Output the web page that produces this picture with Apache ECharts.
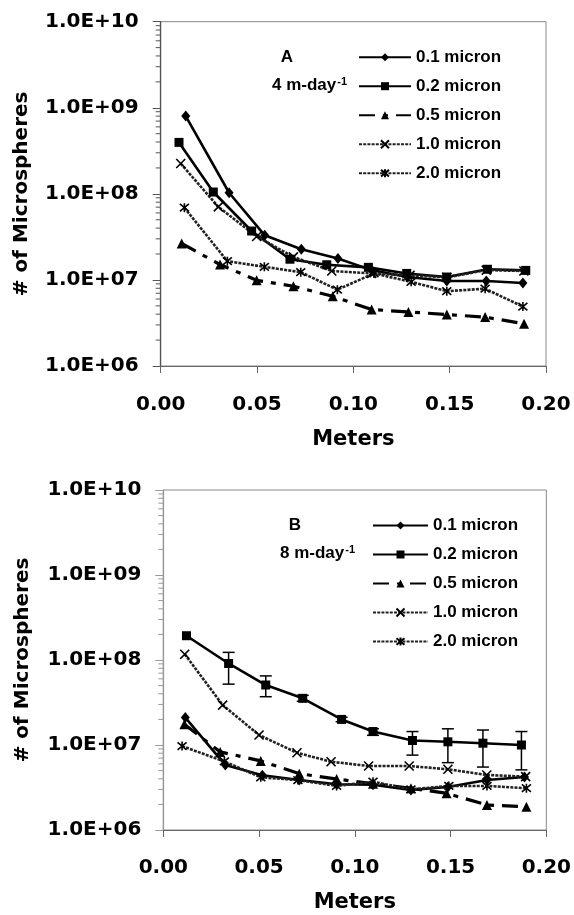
<!DOCTYPE html>
<html>
<head>
<meta charset="utf-8">
<script src="https://cdn.jsdelivr.net/npm/echarts@6/dist/echarts.min.js"></script>
<style>
html,body{margin:0;padding:0;background:#fff;}
#chart{width:574px;height:915px;}
</style>
</head>
<body>
<div id="chart"></div>
<script>
// ---------- data ----------
const seriesNames = ['0.1 micron', '0.2 micron', '0.5 micron', '1.0 micron', '2.0 micron'];
const xTickLabels = ['0.00', '0.05', '0.10', '0.15', '0.20'];
const yTickLabels = ['1.0E+06', '1.0E+07', '1.0E+08', '1.0E+09', '1.0E+10'];

// Panel A (4 m-day-1)
const xA01 = [0.013, 0.0355, 0.054, 0.073, 0.092, 0.1095, 0.128, 0.1485, 0.169, 0.188];
const yA01 = [8.0e8, 1.03e8, 3.3e7, 2.27e7, 1.77e7, 1.3e7, 1.08e7, 9.7e6, 9.7e6, 9.2e6];
const xA02 = [0.0095, 0.0273, 0.0472, 0.0671, 0.0862, 0.1078, 0.1277, 0.1485, 0.1696, 0.1895];
const yA02 = [3.96e8, 1.05e8, 3.7e7, 1.74e7, 1.5e7, 1.4e7, 1.19e7, 1.08e7, 1.33e7, 1.29e7];
const xA05 = [0.0109, 0.0308, 0.0498, 0.0689, 0.0893, 0.1095, 0.1286, 0.1485, 0.1684, 0.1886];
const yA05 = [2.65e7, 1.51e7, 9.9e6, 8.45e6, 6.45e6, 4.53e6, 4.25e6, 3.96e6, 3.7e6, 3.1e6];
const xA10 = [0.0104, 0.0299, 0.0498, 0.0689, 0.0888, 0.1095, 0.1294, 0.1485, 0.169, 0.1885];
const yA10 = [2.25e8, 7.06e7, 3.2e7, 1.85e7, 1.27e7, 1.19e7, 1.13e7, 1.07e7, 1.3e7, 1.27e7];
const xA20 = [0.0123, 0.0346, 0.0538, 0.0727, 0.0917, 0.1107, 0.130, 0.1485, 0.1684, 0.188];
const yA20 = [6.9e7, 1.65e7, 1.42e7, 1.23e7, 7.7e6, 1.19e7, 9.5e6, 7.4e6, 7.9e6, 4.9e6];

// Panel B (8 m-day-1)
const xB01 = [0.0115, 0.0324, 0.0517, 0.071, 0.0905, 0.1095, 0.1293, 0.1486, 0.169, 0.1886];
const yB01 = [2.1e7, 5.8e6, 4.4e6, 3.87e6, 3.45e6, 3.4e6, 2.95e6, 3.2e6, 3.87e6, 4.2e6];
const xB02 = [0.0121, 0.0341, 0.0535, 0.0728, 0.0931, 0.1095, 0.1301, 0.1486, 0.1669, 0.187];
const yB02 = [1.93e8, 9.1e7, 5.08e7, 3.54e7, 2.0e7, 1.44e7, 1.13e7, 1.09e7, 1.05e7, 1.0e7];
const errLowB02 = [null, 5.2e7, 3.7e7, 3.27e7, 1.88e7, 1.3e7, 7.6e6, 6.2e6, 5.5e6, 5.1e6];
const errHighB02 = [null, 1.23e8, 6.5e7, 3.84e7, 2.12e7, 1.55e7, 1.44e7, 1.55e7, 1.5e7, 1.44e7];
const xB05 = [0.011, 0.0297, 0.0509, 0.071, 0.0905, 0.1095, 0.1293, 0.1479, 0.169, 0.1896];
const yB05 = [1.75e7, 8.3e6, 6.5e6, 4.6e6, 3.98e6, 3.5e6, 3.1e6, 2.7e6, 1.97e6, 1.88e6];
const xB10 = [0.0112, 0.031, 0.05, 0.0698, 0.0876, 0.1072, 0.1284, 0.1486, 0.1689, 0.1892];
const yB10 = [1.17e8, 2.95e7, 1.31e7, 8.1e6, 6.36e6, 5.66e6, 5.66e6, 5.18e6, 4.44e6, 4.24e6];
const xB20 = [0.0098, 0.0319, 0.0509, 0.0703, 0.0905, 0.1095, 0.1293, 0.1491, 0.169, 0.1896];
const yB20 = [9.7e6, 6.4e6, 4.17e6, 3.87e6, 3.3e6, 3.7e6, 3.0e6, 3.3e6, 3.3e6, 3.1e6];

// ---------- styling helpers ----------
const FONT = '"Liberation Sans", Arial, sans-serif';
const AXFONT = '"DejaVu Sans", sans-serif';
const X_SYMBOL = 'path://M0,0L10,10M10,0L0,10';
const AST_SYMBOL = 'path://M0,0L10,10M10,0L0,10M5,-1L5,11';

const styles = [
  {symbol: 'diamond', symbolSize: [9, 11], lineStyle: {color: '#000', width: 2.6, type: 'solid'}},
  {symbol: 'rect', symbolSize: 9, lineStyle: {color: '#000', width: 2.6, type: 'solid'}},
  {symbol: 'triangle', symbolSize: 10, lineStyle: {color: '#000', width: 3.2, type: [16, 8, 5, 8]}},
  {symbol: X_SYMBOL, symbolSize: 9, lineStyle: {color: '#222', width: 2.6, type: [3, 1.2]}},
  {symbol: AST_SYMBOL, symbolSize: 9, lineStyle: {color: '#222', width: 2.6, type: [3, 1.2]}}
];

function zip(xs, ys) { return xs.map((x, i) => [x, ys[i]]); }

function makeSeries(idx, xs, ys, gridIdx) {
  const s = styles[idx];
  return {
    type: 'line',
    name: seriesNames[idx],
    xAxisIndex: gridIdx,
    yAxisIndex: gridIdx,
    data: zip(xs, ys),
    symbol: s.symbol,
    symbolSize: s.symbolSize,
    showSymbol: true,
    lineStyle: s.lineStyle,
    itemStyle: {color: '#000', borderColor: '#000', borderWidth: idx >= 3 ? 1.6 : 0},
    emphasis: {disabled: true},
    z: 3
  };
}

// minor tick positions on the log axis (2..9 x 10^n)
const minorTicks = [];
for (let e = 6; e < 10; e++) for (let m = 2; m <= 9; m++) minorTicks.push(m * Math.pow(10, e));

function minorTickSeries(gridIdx, color) {
  return {
    type: 'custom', name: 'minorTicks' + gridIdx, xAxisIndex: gridIdx, yAxisIndex: gridIdx,
    data: minorTicks.map(v => [0, v]), encode: {x: 0, y: 1}, clip: false, silent: true, z: 5,
    renderItem: function (params, api) {
      const p = api.coord([api.value(0), api.value(1)]);
      return {type: 'line', shape: {x1: p[0] - 5, y1: p[1], x2: p[0], y2: p[1]}, style: {stroke: color, lineWidth: 1}};
    }
  };
}

function xAxisDef(gridIdx, margin, nameGap) {
  return {
    type: 'value', gridIndex: gridIdx, min: 0, max: 0.2, interval: 0.05,
    name: 'Meters', nameLocation: 'middle', nameGap: nameGap,
    nameTextStyle: {fontFamily: AXFONT, fontWeight: 'bold', fontSize: 21, color: '#000'},
    axisLine: {lineStyle: {color: '#666', width: 1}},
    axisTick: {inside: false, length: 7, lineStyle: {color: '#666'}},
    axisLabel: {
      margin: margin, fontFamily: AXFONT, fontWeight: 'bold', fontSize: 20, color: '#000',
      formatter: v => xTickLabels[Math.round(v / 0.05)]
    },
    splitLine: {show: false}
  };
}
function yAxisDef(gridIdx, lineColor, nameGap) {
  return {
    type: 'log', logBase: 10, gridIndex: gridIdx, min: 1e6, max: 1e10,
    name: '# of Microspheres', nameLocation: 'middle', nameRotate: 90, nameGap: nameGap,
    nameTextStyle: {fontFamily: AXFONT, fontWeight: 'bold', fontSize: 20, color: '#000'},
    axisLine: {show: true, lineStyle: {color: lineColor, width: 1.3}},
    axisTick: {show: true, inside: false, length: 8, lineStyle: {color: lineColor}},
    axisLabel: {
      margin: 22, fontFamily: AXFONT, fontWeight: 'bold', fontSize: 20, color: '#000',
      formatter: v => yTickLabels[Math.round(Math.log10(v)) - 6]
    },
    splitLine: {show: false}
  };
}

const errData = xB02.map((x, i) => [x, errLowB02[i], errHighB02[i]]).filter(d => d[1] != null);

const legendBase = {
  orient: 'vertical', padding: 0, itemHeight: 10, itemGap: 12,
  textStyle: {fontFamily: FONT, fontWeight: 'bold', fontSize: 17, lineHeight: 16, color: '#000'},
  data: seriesNames, selectedMode: false
};

const supRich = {
  m: {fontFamily: FONT, fontWeight: 'bold', fontSize: 17, fill: '#000'},
  s: {fontFamily: FONT, fontWeight: 'bold', fontSize: 11, fill: '#000', verticalAlign: 'top', padding: [0, 0, 0, 1]}
};

const option = {
  animation: false,
  backgroundColor: '#fff',
  grid: [
    {left: 160.7, top: 21.7, width: 385.3, height: 344.3, show: true, borderColor: '#888', borderWidth: 1, backgroundColor: 'transparent'},
    {left: 163.3, top: 490, width: 386.7, height: 340, show: true, borderColor: '#888', borderWidth: 1, backgroundColor: 'transparent'}
  ],
  xAxis: [xAxisDef(0, 29, 63.5), xAxisDef(1, 28, 62.5)],
  yAxis: [yAxisDef(0, '#555', 128.5), yAxisDef(1, '#999', 131)],
  legend: [
    Object.assign({}, legendBase, {left: 358, top: 48.7, itemWidth: 52}),
    Object.assign({}, legendBase, {left: 372, top: 517, itemWidth: 55})
  ],
  graphic: [
    {type: 'text', x: 287, y: 57, style: {text: 'A', fontFamily: FONT, fontWeight: 'bold', fontSize: 17, fill: '#000', align: 'center', verticalAlign: 'middle'}},
    {type: 'text', x: 272, y: 85, style: {text: '{m|4 m-day}{s|-1}', align: 'left', verticalAlign: 'middle', rich: supRich}},
    {type: 'text', x: 295, y: 525, style: {text: 'B', fontFamily: FONT, fontWeight: 'bold', fontSize: 17, fill: '#000', align: 'center', verticalAlign: 'middle'}},
    {type: 'text', x: 280, y: 553, style: {text: '{m|8 m-day}{s|-1}', align: 'left', verticalAlign: 'middle', rich: supRich}}
  ],
  series: [
    makeSeries(0, xA01, yA01, 0),
    makeSeries(1, xA02, yA02, 0),
    makeSeries(2, xA05, yA05, 0),
    makeSeries(3, xA10, yA10, 0),
    makeSeries(4, xA20, yA20, 0),
    makeSeries(0, xB01, yB01, 1),
    makeSeries(1, xB02, yB02, 1),
    makeSeries(2, xB05, yB05, 1),
    makeSeries(3, xB10, yB10, 1),
    makeSeries(4, xB20, yB20, 1),
    minorTickSeries(0, '#555'),
    minorTickSeries(1, '#999'),
    {
      type: 'custom', name: 'err', xAxisIndex: 1, yAxisIndex: 1,
      data: errData, encode: {x: 0, y: [1, 2]}, z: 4,
      renderItem: function (params, api) {
        const x = api.value(0);
        const lo = api.coord([x, api.value(1)]);
        const hi = api.coord([x, api.value(2)]);
        const w = 6;
        const st = {stroke: '#000', lineWidth: 1.5};
        return {type: 'group', children: [
          {type: 'line', shape: {x1: lo[0], y1: lo[1], x2: hi[0], y2: hi[1]}, style: st},
          {type: 'line', shape: {x1: lo[0] - w, y1: lo[1], x2: lo[0] + w, y2: lo[1]}, style: st},
          {type: 'line', shape: {x1: hi[0] - w, y1: hi[1], x2: hi[0] + w, y2: hi[1]}, style: st}
        ]};
      }
    }
  ]
};

const chart = echarts.init(document.getElementById('chart'), null, {renderer: 'canvas'});
chart.setOption(option);
</script>
</body>
</html>
